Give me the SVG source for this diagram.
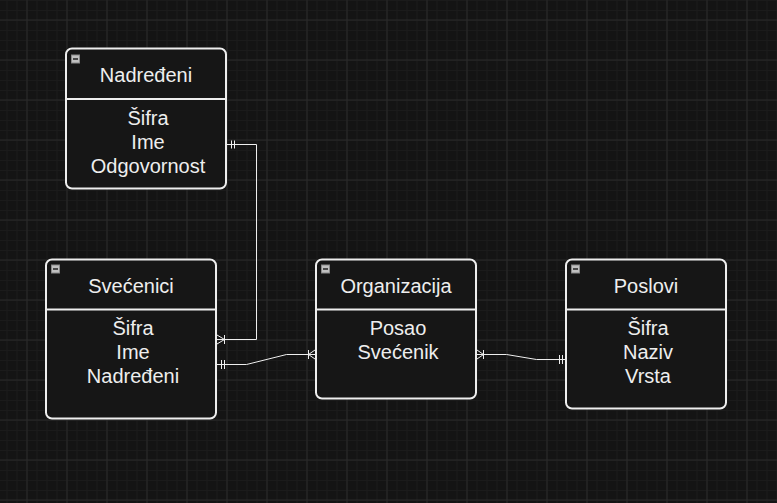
<svg xmlns="http://www.w3.org/2000/svg" width="777" height="503" viewBox="0 0 777 503">
<defs>
<pattern id="minor" x="6.5" y="0" width="10" height="10" patternUnits="userSpaceOnUse">
<path d="M0 0.5H10M0.5 0V10" fill="none" stroke="#1b1b1b" stroke-width="1"/>
</pattern>
<pattern id="major" x="26.5" y="19.5" width="40" height="40" patternUnits="userSpaceOnUse">
<path d="M0 0.5H40M0.5 0V40" fill="none" stroke="#2a2a2a" stroke-width="1"/>
</pattern>
<g id="minus">
<rect x="0.5" y="0.5" width="8" height="8" fill="#c0c0c0" stroke="#8a8a8a" stroke-width="1"/>
<path d="M2 4.5H7" stroke="#222" stroke-width="1.5"/>
</g>
</defs>
<style>
.box{fill:#161616;stroke:#eeeeee;stroke-width:2}
.div{stroke:#eeeeee;stroke-width:2}
.t{font-family:"Liberation Sans",Arial,sans-serif;font-size:20px;fill:#eeeeee;text-anchor:middle}
.c{fill:none;stroke:#eeeeee;stroke-width:1}
</style>
<rect width="777" height="503" fill="#141414"/>
<rect width="777" height="503" fill="url(#minor)"/>
<rect width="777" height="503" fill="url(#major)"/>

<g id="connectors">
<path class="c" d="M226 144.5H256.5V339.5H216"/>
<path class="c" d="M231.5 140.5V148.5M234.5 140.5V148.5"/>
<path class="c" d="M217 335L224.5 339.5L217 344M224.5 335V344"/>
<path class="c" d="M216 364.5H246.5L286.5 354.5H316"/>
<path class="c" d="M221.5 360V369M224.5 360V369"/>
<path class="c" d="M315 350L308.5 354.5L315 359M308.5 350V359"/>
<path class="c" d="M476 354.5H506.5L536.5 359.5H566"/>
<path class="c" d="M477 350L483.5 354.5L477 359M483.5 350V359"/>
<path class="c" d="M559.5 355V364M562.5 355V364"/>
</g>

<g id="nadredjeni">
<rect class="box" x="66" y="48.5" width="160" height="140" rx="6"/>
<line class="div" x1="66" y1="99" x2="226" y2="99"/>
<use href="#minus" x="71" y="54.5"/>
<text class="t" x="146" y="82">Nadređeni</text>
<text class="t" x="148" y="124.5">Šifra</text>
<text class="t" x="148" y="148.5">Ime</text>
<text class="t" x="148" y="172.5">Odgovornost</text>
</g>

<g id="svecenici">
<rect class="box" x="46" y="259.5" width="170" height="159" rx="6"/>
<line class="div" x1="46" y1="309.5" x2="216" y2="309.5"/>
<use href="#minus" x="51" y="264.5"/>
<text class="t" x="131" y="292.5">Svećenici</text>
<text class="t" x="133" y="335">Šifra</text>
<text class="t" x="133" y="359">Ime</text>
<text class="t" x="133" y="383">Nadređeni</text>
</g>

<g id="organizacija">
<rect class="box" x="316" y="259.5" width="160" height="139" rx="6"/>
<line class="div" x1="316" y1="309.5" x2="476" y2="309.5"/>
<use href="#minus" x="321" y="264.5"/>
<text class="t" x="396" y="292.5">Organizacija</text>
<text class="t" x="398" y="335">Posao</text>
<text class="t" x="398" y="359">Svećenik</text>
</g>

<g id="poslovi">
<rect class="box" x="566" y="259.5" width="160" height="149" rx="6"/>
<line class="div" x1="566" y1="309.5" x2="726" y2="309.5"/>
<use href="#minus" x="571" y="264.5"/>
<text class="t" x="646" y="292.5">Poslovi</text>
<text class="t" x="648" y="335">Šifra</text>
<text class="t" x="648" y="359">Naziv</text>
<text class="t" x="648" y="383">Vrsta</text>
</g>
</svg>
